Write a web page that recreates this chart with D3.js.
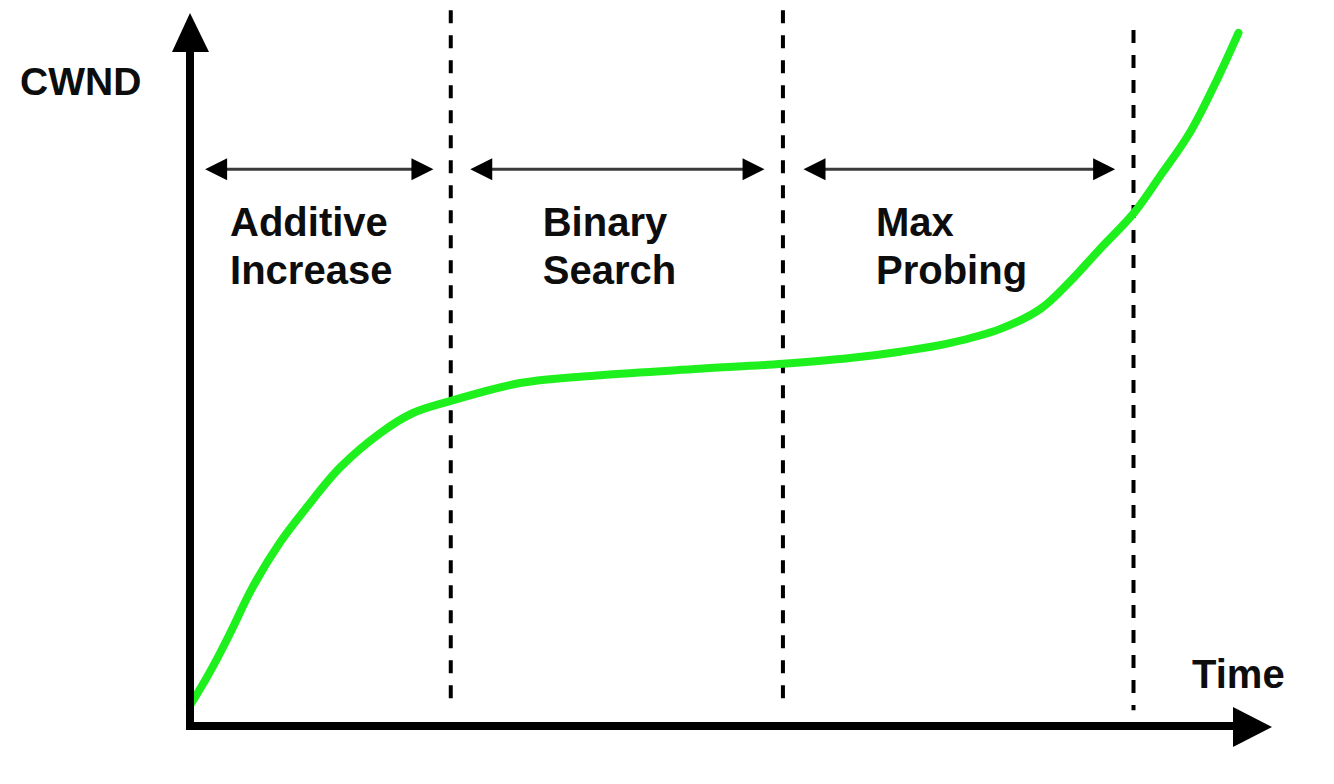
<!DOCTYPE html>
<html>
<head>
<meta charset="utf-8">
<script src="https://cdn.jsdelivr.net/npm/d3@7"></script>
<style>
  html, body { margin: 0; padding: 0; background: #fff; }
  text { font-family: "Liberation Sans", Arial, sans-serif; font-weight: bold; fill: #0d0d0d; }
</style>
</head>
<body>
<svg id="vis" width="1334" height="784"></svg>
<script>
// CWND over time (time 0..100, cwnd 0..100)
const timeValues = [0, 0.5, 2.1, 3.7, 5.8, 8.3, 10.8, 13.9, 17.6, 20.6, 24.1, 30.5, 37.9, 47.1, 54.8,
  61.0, 65.6, 70.2, 74.9, 78.6, 81.3, 84.1, 87.2, 89.6, 92.4, 95.0, 96.9]
const cwndValues = [2.9, 4.1, 8.3, 13.0, 19.5, 25.7, 30.7, 36.3, 41.1, 43.9, 45.6, 48.1, 49.2, 50.1, 50.8,
  51.6, 52.5, 53.7, 55.7, 58.5, 62.3, 66.9, 71.9, 77.0, 83.2, 90.9, 97.2]

// phases
const phaseBounds = [24.1, 54.8, 87.2]
const boundTops = [100.4, 100.4, 97.6]
const phaseStarts = [1.4, 25.9, 56.7]
const phaseEnds = [22.5, 53.1, 85.5]
const phaseLabels = [["Additive", "Increase"], ["Binary", "Search"], ["Max", "Probing"]]
const labelStarts = [3.7, 32.6, 63.4]

const vis = d3.select("#vis")

// scales: origin of axes at (190, 726)
const x = d3.scaleLinear().domain([0, 100]).range([190, 1272])
const y = d3.scaleLinear().domain([0, 100]).range([726, 13])

// dashed phase boundaries
vis.selectAll(".bound")
  .data(phaseBounds)
  .enter()
  .append("line")
  .attr("x1", d => x(d))
  .attr("x2", d => x(d))
  .attr("y1", (d, i) => y(boundTops[i]))
  .attr("y2", y(2.2))
  .attr("stroke", "#000")
  .attr("stroke-width", 4)
  .attr("stroke-dasharray", "13,12")

// green curve
const line = d3.line()
  .x(d => x(d[0]))
  .y(d => y(d[1]))
  .curve(d3.curveCatmullRom.alpha(0.5))

vis.append("path")
  .datum(timeValues.map((t, i) => [t, cwndValues[i]]))
  .attr("d", line)
  .attr("fill", "none")
  .attr("stroke", "#1ef01e")
  .attr("stroke-width", 8)
  .attr("stroke-linecap", "round")

// axes with arrow heads
const x0 = x(0), y0 = y(0)
const yTip = y(100), xTip = x(100)
vis.append("path")
  .attr("d", `M${x0},${yTip + 39} V${y0} H${xTip - 39}`)
  .attr("fill", "none")
  .attr("stroke", "#000")
  .attr("stroke-width", 8)
  .attr("stroke-linejoin", "miter")
  .attr("stroke-linecap", "butt")
vis.append("path")
  .attr("d", `M${x0},${yTip} L${x0 - 18},${yTip + 39} L${x0 + 19},${yTip + 39} Z`)
  .attr("fill", "#000")
vis.append("path")
  .attr("d", `M${xTip},${y0 + 1} L${xTip - 39},${y0 - 19} L${xTip - 39},${y0 + 21} Z`)
  .attr("fill", "#000")

// double arrows above each phase
const arrowY = y(78.1)
const phases = vis.selectAll(".phase")
  .data(phaseStarts)
  .enter()
  .append("g")
  .attr("class", "phase")

phases.append("line")
  .attr("x1", d => x(d) + 15)
  .attr("x2", (d, i) => x(phaseEnds[i]) - 15)
  .attr("y1", arrowY)
  .attr("y2", arrowY)
  .attr("stroke", "#3a3a3a")
  .attr("stroke-width", 3)

phases.append("path")
  .attr("d", d => `M${x(d)},${arrowY} L${x(d) + 22},${arrowY - 11} L${x(d) + 22},${arrowY + 11} Z`)
  .attr("fill", "#000")

phases.append("path")
  .attr("d", (d, i) => {
    const e = x(phaseEnds[i])
    return `M${e},${arrowY} L${e - 22},${arrowY - 11} L${e - 22},${arrowY + 11} Z`
  })
  .attr("fill", "#000")

// phase labels
phases.append("text")
  .attr("x", (d, i) => x(labelStarts[i]))
  .attr("y", 236)
  .attr("font-size", 40)
  .text((d, i) => phaseLabels[i][0])

phases.append("text")
  .attr("x", (d, i) => x(labelStarts[i]))
  .attr("y", 284)
  .attr("font-size", 40)
  .text((d, i) => phaseLabels[i][1])

// axis titles
vis.append("text")
  .attr("x", 20)
  .attr("y", 95)
  .attr("font-size", 39)
  .text("CWND")

vis.append("text")
  .attr("x", 1192)
  .attr("y", 688)
  .attr("font-size", 40)
  .text("Time")
</script>
</body>
</html>
